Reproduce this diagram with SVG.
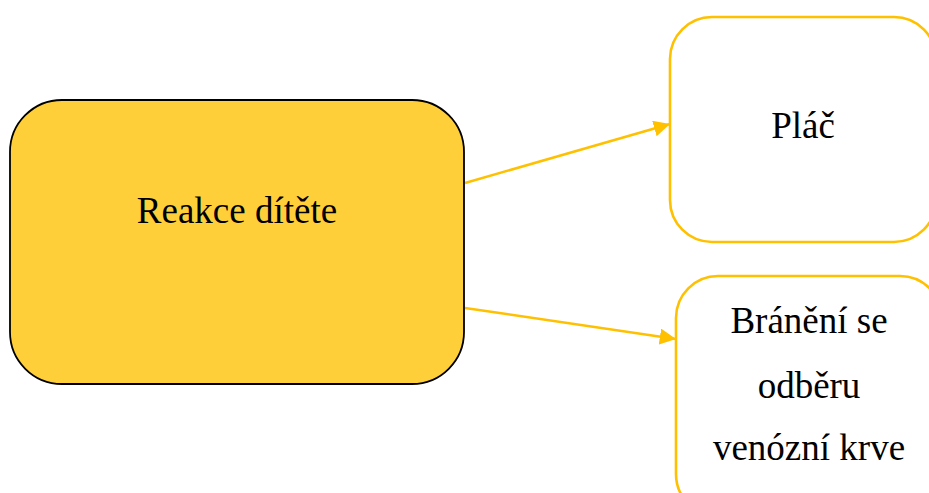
<svg xmlns="http://www.w3.org/2000/svg" width="929" height="493" viewBox="0 0 929 493">
<style>
.lbl{font-family:"Liberation Serif","Times New Roman",serif;font-size:37px;fill:#000;text-anchor:middle}
.out{fill:#fff;stroke:#FFC000;stroke-width:2.6}
.edge{stroke:#FFC000;stroke-width:2.5;fill:none}
</style>
<defs>
<marker id="ah" viewBox="0 0 10 10" refX="10" refY="5" markerWidth="6.5" markerHeight="6.5" markerUnits="strokeWidth" orient="auto">
<path d="M0,0 L10,5 L0,10 Z" fill="#FFC000"/>
</marker>
</defs>
<g id="connectors">
<line class="edge" x1="465" y1="183" x2="670" y2="124" marker-end="url(#ah)"/>
<line class="edge" x1="465" y1="308" x2="676" y2="339" marker-end="url(#ah)"/>
</g>
<g id="node-reakce">
<rect x="10" y="100" width="454" height="284" rx="52" fill="#FFCF3A" stroke="#000" stroke-width="1.8"/>
<text class="lbl" x="237" y="223">Reakce dítěte</text>
</g>
<g id="node-plac">
<rect class="out" x="670" y="17" width="266" height="225" rx="42"/>
<text class="lbl" x="803" y="138">Pláč</text>
</g>
<g id="node-braneni">
<rect class="out" x="676" y="276" width="266" height="240" rx="42"/>
<text class="lbl" x="809" y="333">Bránění se</text>
<text class="lbl" x="809" y="398">odběru</text>
<text class="lbl" x="809" y="460">venózní krve</text>
</g>
</svg>
